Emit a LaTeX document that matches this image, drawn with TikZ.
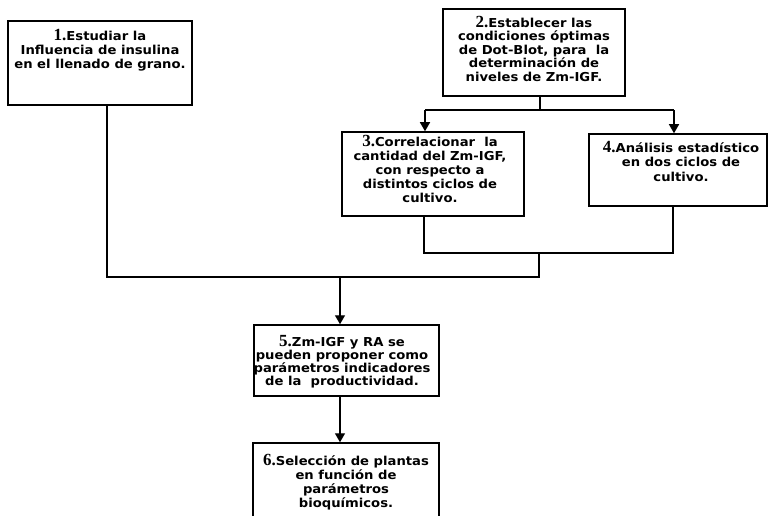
\documentclass[tikz,border=0pt]{standalone}
\usepackage{fontspec}
\setmainfont{DejaVu Sans}[FakeStretch=1.07]
\newfontfamily\numfont{Liberation Serif}
\usetikzlibrary{arrows.meta}
\newcommand\stepnum[1]{{\numfont\bfseries\fontsize{17}{14}\selectfont #1.}}
\begin{document}
\begin{tikzpicture}[x=1pt,y=-1pt,
  boxstyle/.style={draw, line width=1.5pt, inner sep=0pt},
  txt/.style={align=center, inner sep=0pt, anchor=north,
    font=\bfseries\fontsize{12.3}{14}\selectfont},
  link/.style={line width=1.4pt},
  arr/.style={line width=1.4pt, -{Triangle[length=9pt,width=10pt]}}]
\useasboundingbox (0,0) rectangle (769,516);
\clip (0,0) rectangle (769,516);
\fill[white] (0,0) rectangle (769,516);
% boxes
\node[boxstyle, minimum width=184pt, minimum height=84pt] (b1) at (100,63) {};
\node[boxstyle, minimum width=182pt, minimum height=87pt] (b2) at (534,52.5) {};
\node[boxstyle, minimum width=182pt, minimum height=84pt] (b3) at (433,174) {};
\node[boxstyle, minimum width=178pt, minimum height=72pt] (b4) at (678,170) {};
\node[boxstyle, minimum width=185pt, minimum height=71pt] (b5) at (346.5,360.5) {};
\node[boxstyle, minimum width=186pt, minimum height=87pt] (b6) at (346,486.5) {};
% texts
\node[txt] (t1) at (100,29) {\stepnum{1}Estudiar la\\Influencia de insulina\\en el llenado de grano.};
\node[txt, font=\bfseries\fontsize{12.3}{13.4}\selectfont] (t2) at (534,16) {\stepnum{2}Establecer las\\condiciones óptimas\\de Dot-Blot, para\ \ la\\determinación de\\niveles de Zm-IGF.};
\node[txt] (t3) at (430,135) {\stepnum{3}Correlacionar\ \ la\\cantidad del Zm-IGF,\\con respecto a\\distintos ciclos de\\cultivo.};
\node[txt, font=\bfseries\fontsize{12.3}{14.6}\selectfont] (t4) at (681,141) {\stepnum{4}Análisis estadístico\\en dos ciclos de\\cultivo.};
\node[txt, font=\bfseries\fontsize{12.3}{13.2}\selectfont] (t5) at (342,335) {\stepnum{5}Zm-IGF y RA se\\pueden proponer como\\parámetros indicadores\\de la\ \ productividad.};
\node[txt] (t6) at (346,454) {\stepnum{6}Selección de plantas\\en función de\\parámetros\\bioquímicos.};
% junction points
\coordinate (s2) at (540,110);
\coordinate (l3) at (425,110);
\coordinate (r4) at (674,110);
\coordinate (m3) at (424,253);
\coordinate (m4) at (673,253);
\coordinate (mm) at (539,253);
\coordinate (c1) at (107,277);
\coordinate (c2) at (539,277);
\coordinate (c5) at (340,277);
% connectors
\draw[link] (b2.south -| s2) -- (s2);
\draw[link] (l3) -- (r4);
\draw[arr] (l3) -- (b3.north -| l3);
\draw[arr] (r4) -- (b4.north -| r4);
\draw[link] (b3.south -| m3) -- (m3) -- (m4) -- (b4.south -| m4);
\draw[link] (b1.south -| c1) -- (c1) -- (c2) -- (mm);
\draw[arr] (c5) -- (b5.north -| c5);
\draw[arr] (b5.south -| c5) -- (b6.north -| c5);
\end{tikzpicture}
\end{document}
